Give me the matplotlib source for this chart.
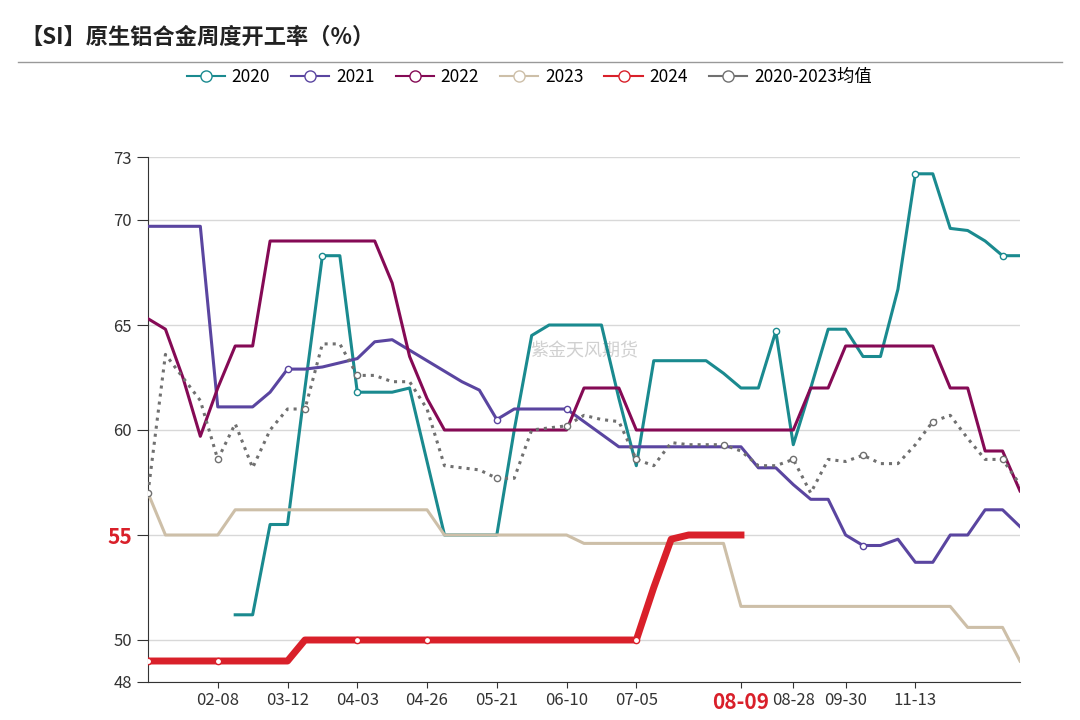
import matplotlib.pyplot as plt
import numpy as np

plt.rcParams['font.family'] = ['Noto Sans CJK SC', 'DejaVu Sans']

N = None
weeks = ['01-04', '01-11', '01-18', '01-25', '02-08', '02-15', '02-22', '03-01', '03-12', '03-19',
         '03-26', '03-29', '04-03', '04-10', '04-17', '04-22', '04-26', '04-30', '05-08', '05-14',
         '05-21', '05-28', '05-31', '06-04', '06-10', '06-17', '06-21', '06-28', '07-05', '07-12',
         '07-19', '07-26', '08-02', '08-05', '08-09', '08-16', '08-23', '08-28', '09-06', '09-13',
         '09-30', '10-11', '10-18', '10-25', '11-13', '11-20', '11-27', '12-04', '12-11', '12-18',
         '12-25']
tick_labels = ['02-08', '03-12', '04-03', '04-26', '05-21', '06-10', '07-05', '08-09', '08-28', '09-30', '11-13']

s2020 = [N, N, N, N, N, 51.2, 51.2, 55.5, 55.5, 62.0, 68.3, 68.3, 61.8, 61.8, 61.8, 62.0, 58.5,
         55.0, 55.0, 55.0, 55.0, 60.0, 64.5, 65.0, 65.0, 65.0, 65.0, 61.5, 58.3, 63.3, 63.3, 63.3,
         63.3, 62.7, 62.0, 62.0, 64.7, 59.3, 62.0, 64.8, 64.8, 63.5, 63.5, 66.7, 72.2, 72.2, 69.6,
         69.5, 69.0, 68.3, 68.3]
s2021 = [69.7, 69.7, 69.7, 69.7, 61.1, 61.1, 61.1, 61.8, 62.9, 62.9, 63.0, 63.2, 63.4, 64.2, 64.3,
         63.8, 63.3, 62.8, 62.3, 61.9, 60.5, 61.0, 61.0, 61.0, 61.0, 60.4, 59.8, 59.2, 59.2, 59.2,
         59.2, 59.2, 59.2, 59.2, 59.2, 58.2, 58.2, 57.4, 56.7, 56.7, 55.0, 54.5, 54.5, 54.8, 53.7,
         53.7, 55.0, 55.0, 56.2, 56.2, 55.4]
s2022 = [65.3, 64.8, 62.5, 59.7, 62.0, 64.0, 64.0, 69.0, 69.0, 69.0, 69.0, 69.0, 69.0, 69.0, 67.0,
         63.5, 61.5, 60.0, 60.0, 60.0, 60.0, 60.0, 60.0, 60.0, 60.0, 62.0, 62.0, 62.0, 60.0, 60.0,
         60.0, 60.0, 60.0, 60.0, 60.0, 60.0, 60.0, 60.0, 62.0, 62.0, 64.0, 64.0, 64.0, 64.0, 64.0,
         64.0, 62.0, 62.0, 59.0, 59.0, 57.1]
s2023 = [57.0, 55.0, 55.0, 55.0, 55.0, 56.2, 56.2, 56.2, 56.2, 56.2, 56.2, 56.2, 56.2, 56.2, 56.2,
         56.2, 56.2, 55.0, 55.0, 55.0, 55.0, 55.0, 55.0, 55.0, 55.0, 54.6, 54.6, 54.6, 54.6, 54.6,
         54.6, 54.6, 54.6, 54.6, 51.6, 51.6, 51.6, 51.6, 51.6, 51.6, 51.6, 51.6, 51.6, 51.6, 51.6,
         51.6, 51.6, 50.6, 50.6, 50.6, 49.0]
s2024 = [49.0, 49.0, 49.0, 49.0, 49.0, 49.0, 49.0, 49.0, 49.0, 50.0, 50.0, 50.0, 50.0, 50.0, 50.0,
         50.0, 50.0, 50.0, 50.0, 50.0, 50.0, 50.0, 50.0, 50.0, 50.0, 50.0, 50.0, 50.0, 50.0, 52.5,
         54.8, 55.0, 55.0, 55.0, 55.0]
avg = [57.0, 63.6, 62.5, 61.4, 58.6, 60.3, 58.2, 60.0, 61.0, 61.0, 64.1, 64.1, 62.6, 62.6, 62.3,
       62.3, 61.0, 58.3, 58.2, 58.1, 57.7, 57.7, 60.0, 60.1, 60.2, 60.7, 60.5, 60.4, 58.6, 58.3,
       59.4, 59.3, 59.3, 59.3, 59.0, 58.3, 58.3, 58.6, 57.0, 58.6, 58.5, 58.8, 58.4, 58.4, 59.3,
       60.4, 60.7, 59.6, 58.6, 58.6, 57.4]

def arr(v):
    return np.array([np.nan if a is None else a for a in v], dtype=float)

fig = plt.figure(figsize=(10.8, 7.2), dpi=100)
ax = fig.add_axes([148/1080, 38/720, 872/1080, 525/720])
x = np.arange(len(weeks))

series = [
    ('2020', s2020, '#1a8a8f', 2.2, '-', [10, 12, 36, 44, 49]),
    ('2021', s2021, '#5a45a0', 2.2, '-', [8, 20, 24, 41]),
    ('2022', s2022, '#850a55', 2.2, '-', []),
    ('2023', s2023, '#cdbfa8', 2.2, '-', []),
    ('2024', s2024, '#d9202a', 5.0, '-', [0, 4, 12, 16, 28]),
    ('2020-2023均值', avg, '#707070', 2.2, ':', [0, 4, 9, 12, 20, 24, 28, 33, 37, 41, 45, 49]),
]
for name, vals, col, lw, ls, mk in series:
    y = arr(vals)
    ax.plot(x[:len(y)], y, color=col, lw=lw, ls=ls, zorder=3)
    mk = [i for i in mk if i < len(y) and not np.isnan(y[i])]
    ax.plot(x[mk], y[mk], 'o', ms=4.5, mfc='white', mec=col, mew=1, zorder=4)

ax.set_xlim(0, len(weeks) - 1)
ax.set_ylim(48, 73)
yt = [48, 50, 55, 60, 65, 70, 73]
ax.set_yticks(yt)
ax.set_yticklabels([str(v) for v in yt])
for v in yt:
    ax.axhline(v, color='#d8d8d8', lw=1, zorder=1)
ax.tick_params(axis='y', length=8, color='#333', labelsize=12, labelcolor='#333')
lab55 = ax.get_yticklabels()[2]
lab55.set_color('#d9202a'); lab55.set_fontweight('bold'); lab55.set_fontsize(15)

tpos = [weeks.index(t) for t in tick_labels]
ax.set_xticks(tpos)
ax.set_xticklabels(tick_labels)
ax.tick_params(axis='x', length=4, color='#333', labelsize=12, labelcolor='#333')
for lab in ax.get_xticklabels():
    if lab.get_text() == '08-09':
        lab.set_color('#d9202a'); lab.set_fontweight('bold'); lab.set_fontsize(15)
        lab.set_bbox(dict(facecolor='white', edgecolor='none', pad=1))
        lab.set_zorder(10)
for s in ['top', 'right']:
    ax.spines[s].set_visible(False)
ax.spines['left'].set_color('#333')
ax.spines['bottom'].set_color('#333')

ax.text(0.5, 0.63, '紫金天风期货', transform=ax.transAxes, ha='center', va='center',
        fontsize=13, color='#d0d0d0', zorder=0)

handles = [plt.Line2D([], [], color=c, lw=1.5, marker='o', ms=8, mfc='white', mec=c)
           for _, _, c, _, _, _ in series]
fig.legend(handles, [s[0] for s in series], loc='center', bbox_to_anchor=(0.49, 0.893),
           ncol=6, frameon=False, fontsize=12.5, handlelength=2.2, columnspacing=1.2,
           handletextpad=0.4)

fig.text(20/1080, 0.948, '【SI】原生铝合金周度开工率（%）', fontsize=16, fontweight='bold',
         color='#222', va='center')
fig.add_artist(plt.Line2D([18/1080, 1062/1080], [0.914, 0.914], color='#999', lw=1))

fig.savefig('out.png')
